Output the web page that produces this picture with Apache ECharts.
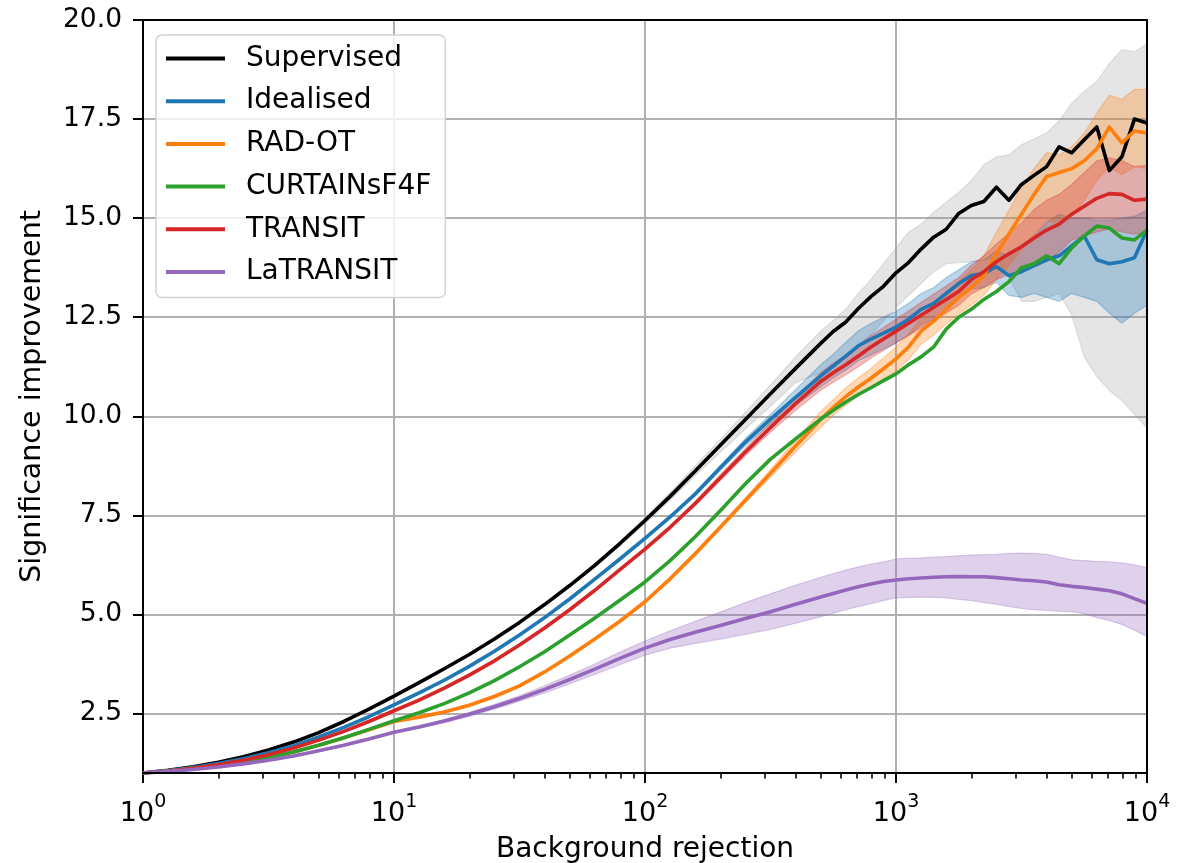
<!DOCTYPE html>
<html><head><meta charset="utf-8">
<script src="https://cdn.jsdelivr.net/npm/echarts@6.0.0/dist/echarts.min.js"></script>
<style>html,body{margin:0;padding:0;background:#fff}#c{width:1195px;height:863px}</style>
</head><body><div id="c"></div><script>
// Background rejection sample points (x axis, log scale)
const rejection = [1, 1.259, 1.585, 1.995, 2.512, 3.162, 3.981, 5.012, 6.31, 7.943,
  10, 12.59, 15.85, 19.95, 25.12, 31.62, 39.81, 50.12, 63.1, 79.43,
  100, 125.9, 158.5, 199.5, 251.2, 316.2, 398.1, 501.2, 562.3, 631, 707.9, 794.3, 891.3,
  1000, 1122, 1259, 1413, 1585, 1778, 1995, 2239, 2512, 2818, 3162, 3548, 3981, 4467, 5012, 5623, 6310, 7079, 7943, 8913, 10000];

const supervised = [1.00, 1.07, 1.16, 1.27, 1.41, 1.58, 1.78, 2.02, 2.30, 2.61,
  2.94, 3.28, 3.63, 3.99, 4.38, 4.80, 5.25, 5.73, 6.24, 6.79,
  7.37, 7.98, 8.62, 9.27, 9.92, 10.57, 11.21, 11.84, 12.14, 12.38, 12.72, 13.02, 13.28,
  13.62, 13.88, 14.22, 14.52, 14.72, 15.12, 15.32, 15.42, 15.78, 15.45, 15.85, 16.08, 16.3, 16.8, 16.65, 16.98, 17.3, 16.2, 16.55, 17.5, 17.4];
const supervisedHigh = [1.0, 1.09, 1.18, 1.29, 1.43, 1.60, 1.80, 2.04, 2.32, 2.63,
  2.96, 3.30, 3.65, 4.01, 4.40, 4.82, 5.28, 5.77, 6.29, 6.85,
  7.45, 8.08, 8.74, 9.42, 10.1, 10.79, 11.5, 12.15, 12.42, 12.7, 13.1, 13.45, 13.85,
  14.25, 14.65, 14.85, 15.15, 15.4, 15.65, 15.95, 16.35, 16.55, 16.6, 16.85, 17.0, 17.15, 17.45, 17.9, 18.2, 18.45, 18.9, 19.25, 19.2, 19.4];
const supervisedLow = [1.0, 1.05, 1.14, 1.25, 1.39, 1.56, 1.76, 2.00, 2.28, 2.59,
  2.92, 3.26, 3.61, 3.97, 4.36, 4.78, 5.22, 5.69, 6.19, 6.73,
  7.29, 7.88, 8.5, 9.09, 9.68, 10.25, 10.85, 11.1, 11.3, 11.5, 11.8, 12.05, 12.4,
  12.75, 13.05, 13.35, 13.65, 13.85, 13.88, 13.9, 13.95, 14.0, 13.5, 12.9, 12.9, 13.0, 13.1, 12.55, 11.5, 11.0, 10.65, 10.4, 10.05, 9.7];

const idealised = [1.0, 1.06, 1.14, 1.24, 1.36, 1.51, 1.69, 1.91, 2.15, 2.42,
  2.72, 3.02, 3.34, 3.69, 4.07, 4.48, 4.92, 5.39, 5.89, 6.40,
  6.92, 7.46, 8.04, 8.7, 9.35, 9.93, 10.48, 11.02, 11.27, 11.52, 11.78, 11.95, 12.1,
  12.25, 12.45, 12.7, 12.85, 13.1, 13.35, 13.55, 13.6, 13.78, 13.55, 13.65, 13.8, 13.95, 14.05, 14.3, 14.55, 13.95, 13.85, 13.9, 14.0, 14.7];
const idealisedHigh = [1.0, 1.08, 1.16, 1.26, 1.38, 1.53, 1.71, 1.93, 2.17, 2.44,
  2.75, 3.05, 3.37, 3.72, 4.10, 4.51, 4.95, 5.42, 5.92, 6.43,
  6.95, 7.5, 8.09, 8.76, 9.44, 10.05, 10.68, 11.3, 11.57, 11.87, 12.16, 12.35, 12.5,
  12.65, 12.85, 13.1, 13.25, 13.5, 13.7, 13.9, 13.95, 14.18, 14.05, 14.3, 14.55, 14.9, 15.1, 15.0, 15.0, 14.95, 14.95, 15.0, 15.05, 15.2];
const idealisedLow = [1.0, 1.04, 1.12, 1.22, 1.34, 1.49, 1.67, 1.89, 2.13, 2.40,
  2.69, 2.99, 3.31, 3.66, 4.04, 4.45, 4.89, 5.36, 5.86, 6.37,
  6.89, 7.42, 7.99, 8.64, 9.26, 9.81, 10.28, 10.74, 10.97, 11.17, 11.4, 11.55, 11.7,
  11.85, 12.05, 12.3, 12.45, 12.7, 13.0, 13.2, 13.25, 13.38, 13.05, 13.0, 13.1, 13.0, 12.9, 13.1, 13.0, 12.9, 12.6, 12.35, 12.6, 12.8];

const radot = [1.0, 1.05, 1.11, 1.19, 1.28, 1.39, 1.53, 1.70, 1.89, 2.09,
  2.30, 2.41, 2.54, 2.71, 2.93, 3.20, 3.55, 3.95, 4.38, 4.83,
  5.32, 5.9, 6.53, 7.2, 7.88, 8.56, 9.25, 9.92, 10.22, 10.5, 10.74, 10.96, 11.2,
  11.45, 11.75, 12.15, 12.4, 12.7, 13.0, 13.25, 13.55, 14.1, 14.6, 15.1, 15.6, 16.05, 16.15, 16.25, 16.45, 16.75, 17.3, 16.9, 17.2, 17.15];
const radotHigh = [1.0, 1.08, 1.14, 1.22, 1.31, 1.42, 1.56, 1.73, 1.92, 2.12,
  2.33, 2.44, 2.57, 2.74, 2.96, 3.23, 3.58, 3.98, 4.41, 4.86,
  5.36, 5.94, 6.58, 7.25, 7.94, 8.66, 9.4, 10.12, 10.42, 10.72, 10.97, 11.21, 11.48,
  11.75, 12.07, 12.48, 12.75, 13.08, 13.42, 13.7, 14.05, 14.65, 15.2, 15.8, 16.25, 16.65, 16.6, 16.8, 17.15, 17.65, 18.1, 18.0, 18.25, 18.25];
const radotLow = [1.0, 1.02, 1.08, 1.16, 1.25, 1.36, 1.50, 1.67, 1.86, 2.06,
  2.27, 2.38, 2.51, 2.68, 2.90, 3.17, 3.52, 3.92, 4.35, 4.80,
  5.28, 5.86, 6.48, 7.15, 7.82, 8.46, 9.1, 9.72, 10.02, 10.28, 10.51, 10.71, 10.92,
  11.15, 11.43, 11.82, 12.05, 12.32, 12.58, 12.8, 13.05, 13.45, 13.8, 14.2, 14.6, 14.95, 14.85, 15.05, 15.45, 15.95, 16.3, 16.1, 16.3, 16.25];

const curtains = [1.0, 1.05, 1.11, 1.19, 1.28, 1.39, 1.53, 1.70, 1.89, 2.10,
  2.32, 2.52, 2.75, 3.02, 3.33, 3.68, 4.06, 4.48, 4.91, 5.36,
  5.82, 6.36, 6.96, 7.62, 8.3, 8.92, 9.43, 9.93, 10.15, 10.36, 10.55, 10.72, 10.9,
  11.07, 11.3, 11.5, 11.75, 12.2, 12.5, 12.7, 12.95, 13.15, 13.4, 13.75, 13.85, 14.05, 13.85, 14.25, 14.55, 14.8, 14.75, 14.5, 14.45, 14.7];

const transit = [1.0, 1.05, 1.12, 1.21, 1.32, 1.46, 1.63, 1.83, 2.05, 2.30,
  2.57, 2.84, 3.14, 3.47, 3.83, 4.23, 4.66, 5.12, 5.61, 6.13,
  6.65, 7.2, 7.8, 8.45, 9.1, 9.72, 10.32, 10.88, 11.1, 11.3, 11.52, 11.75, 11.95,
  12.15, 12.35, 12.55, 12.75, 12.95, 13.15, 13.45, 13.65, 13.9, 14.1, 14.28, 14.5, 14.7, 14.85, 15.1, 15.3, 15.5, 15.62, 15.6, 15.45, 15.48];
const transitHigh = [1.0, 1.08, 1.15, 1.24, 1.35, 1.49, 1.66, 1.86, 2.08, 2.33,
  2.6, 2.87, 3.17, 3.5, 3.86, 4.26, 4.69, 5.15, 5.64, 6.16,
  6.68, 7.24, 7.85, 8.52, 9.19, 9.84, 10.49, 11.1, 11.34, 11.55, 11.79, 12.03, 12.24,
  12.45, 12.66, 12.87, 13.08, 13.29, 13.5, 13.81, 14.05, 14.35, 14.62, 14.88, 15.22, 15.45, 15.6, 15.85, 16.15, 16.45, 16.52, 16.45, 16.3, 16.33];
const transitLow = [1.0, 1.02, 1.09, 1.18, 1.29, 1.43, 1.60, 1.80, 2.02, 2.27,
  2.54, 2.81, 3.11, 3.44, 3.80, 4.20, 4.63, 5.09, 5.58, 6.10,
  6.62, 7.16, 7.75, 8.38, 9.01, 9.6, 10.15, 10.66, 10.86, 11.05, 11.25, 11.47, 11.66,
  11.85, 12.04, 12.23, 12.42, 12.61, 12.8, 13.09, 13.25, 13.45, 13.58, 13.68, 13.78, 13.9, 14.15, 14.45, 14.55, 14.65, 14.72, 14.65, 14.6, 14.63];

const latransit = [1.0, 1.04, 1.09, 1.15, 1.23, 1.32, 1.43, 1.56, 1.70, 1.86,
  2.03, 2.16, 2.31, 2.48, 2.67, 2.88, 3.11, 3.36, 3.62, 3.89,
  4.15, 4.37, 4.55, 4.72, 4.9, 5.07, 5.26, 5.44, 5.53, 5.62, 5.7, 5.77, 5.83,
  5.87, 5.9, 5.92, 5.94, 5.95, 5.96, 5.95, 5.95, 5.93, 5.9, 5.87, 5.85, 5.82, 5.75, 5.71, 5.68, 5.64, 5.6, 5.52, 5.4, 5.28];
const latransitHigh = [1.0, 1.05, 1.10, 1.16, 1.24, 1.33, 1.44, 1.58, 1.72, 1.88,
  2.05, 2.19, 2.35, 2.53, 2.73, 2.95, 3.2, 3.47, 3.75, 4.05,
  4.33, 4.59, 4.83, 5.06, 5.3, 5.52, 5.74, 5.94, 6.03, 6.12, 6.2, 6.27, 6.33,
  6.4, 6.42, 6.43, 6.45, 6.46, 6.48, 6.5, 6.51, 6.52, 6.54, 6.55, 6.54, 6.52, 6.45, 6.38, 6.36, 6.34, 6.33, 6.3, 6.25, 6.18];
const latransitLow = [1.0, 1.03, 1.08, 1.14, 1.22, 1.31, 1.42, 1.54, 1.68, 1.84,
  2.01, 2.13, 2.27, 2.43, 2.61, 2.81, 3.02, 3.25, 3.49, 3.73,
  3.97, 4.15, 4.27, 4.38, 4.5, 4.62, 4.78, 4.94, 5.03, 5.12, 5.2, 5.27, 5.35,
  5.42, 5.43, 5.44, 5.43, 5.42, 5.38, 5.35, 5.3, 5.26, 5.2, 5.15, 5.12, 5.1, 5.08, 5.07, 5.02, 4.92, 4.85, 4.75, 4.6, 4.44];

const yTicks = [2.5, 5, 7.5, 10, 12.5, 15, 17.5, 20];
const xMinorTicks = [2, 3, 4, 5, 6, 7, 8, 9, 20, 30, 40, 50, 60, 70, 80, 90,
  200, 300, 400, 500, 600, 700, 800, 900, 2000, 3000, 4000, 5000, 6000, 7000, 8000, 9000];

const FONT = 'DejaVu Sans';
const models = [
  {name: 'Supervised', y: supervised, lo: supervisedLow, hi: supervisedHigh, color: '#000000', band: 'rgba(150,150,150,0.25)'},
  {name: 'Idealised', y: idealised, lo: idealisedLow, hi: idealisedHigh, color: '#1f77b4', band: 'rgba(31,119,180,0.3)'},
  {name: 'RAD-OT', y: radot, lo: radotLow, hi: radotHigh, color: '#ff7f0e', band: 'rgba(255,127,14,0.3)'},
  {name: 'CURTAINsF4F', y: curtains, color: '#2ca02c'},
  {name: 'TRANSIT', y: transit, lo: transitLow, hi: transitHigh, color: '#d62728', band: 'rgba(214,39,40,0.3)'},
  {name: 'LaTRANSIT', y: latransit, lo: latransitLow, hi: latransitHigh, color: '#9467bd', band: 'rgba(148,103,189,0.3)'}
];

function bandSeries(m) {
  return {
    type: 'custom', name: m.name + ' band', silent: true, z: 1, clip: true,
    xAxisIndex: 0, yAxisIndex: 0,
    data: rejection.map((x, i) => [x, m.lo[i], m.hi[i]]),
    encode: {x: 0, y: [1, 2]},
    renderItem: function (params, api) {
      if (params.dataIndex !== 0) return null;
      const pts = [];
      for (let i = 0; i < rejection.length; i++) pts.push(api.coord([rejection[i], m.hi[i]]));
      for (let i = rejection.length - 1; i >= 0; i--) pts.push(api.coord([rejection[i], m.lo[i]]));
      return {type: 'polygon', shape: {points: pts}, style: {fill: m.band, stroke: m.band, lineWidth: 1.2}};
    }
  };
}
function lineSeries(m) {
  return {
    type: 'line', name: m.name, xAxisIndex: 0, yAxisIndex: 0,
    data: rejection.map((x, i) => [x, m.y[i]]),
    showSymbol: false, symbol: 'none', color: m.color, z: 3, clip: true,
    lineStyle: {color: m.color, width: 3.6, join: 'round'}, itemStyle: {color: m.color},
    emphasis: {disabled: true}
  };
}

const series = [];
models.forEach(m => { if (m.band) series.push(bandSeries(m)); });
models.forEach(m => series.push(lineSeries(m)));

const chart = echarts.init(document.getElementById('c'), null, {renderer: 'canvas'});
chart.setOption({
  animation: false,
  backgroundColor: '#ffffff',
  textStyle: {fontFamily: FONT},
  grid: {left: 143, top: 20, right: 48, bottom: 90, containLabel: false, outerBoundsMode: 'none'},
  legend: {
    data: models.map(m => m.name), orient: 'vertical', left: 156, top: 35,
    icon: 'rect', itemWidth: 59, itemHeight: 4, itemGap: 11.7,
    padding: [8, 14, 10, 10],
    backgroundColor: 'rgba(255,255,255,0.8)', borderColor: '#d3d3d3', borderWidth: 1.5, borderRadius: 6,
    textStyle: {fontSize: 28, fontFamily: FONT, color: '#000', lineHeight: 31, padding: [0, 0, 0, 16]},
    selectedMode: false
  },
  xAxis: [
    {
      type: 'log', logBase: 10, min: 1, max: 10000, position: 'bottom',
      name: 'Background rejection', nameLocation: 'middle', nameGap: 63,
      nameTextStyle: {fontSize: 28, fontFamily: FONT, color: '#000'},
      axisLine: {show: true, lineStyle: {color: '#000', width: 2}},
      axisTick: {show: true, length: 10, lineStyle: {color: '#000', width: 2}},
      axisLabel: {
        margin: 20, color: '#000',
        formatter: v => '{b|10}{s|' + Math.round(Math.log10(v)) + '}',
        rich: {
          b: {fontSize: 27, fontFamily: FONT, color: '#000', lineHeight: 34, verticalAlign: 'bottom'},
          s: {fontSize: 19, fontFamily: FONT, color: '#000', lineHeight: 20, verticalAlign: 'top'}
        }
      },
      splitLine: {show: true, lineStyle: {color: '#b0b0b0', width: 2}},
      minorTick: {show: false}
    },
    {
      type: 'log', logBase: 10, min: 1, max: 10000, position: 'bottom', z: 10,
      axisLine: {show: true, lineStyle: {color: '#000', width: 2}},
      axisTick: {show: true, length: 5.6, customValues: xMinorTicks, lineStyle: {color: '#000', width: 1.6}},
      axisLabel: {show: false},
      splitLine: {show: false}
    },
    {
      type: 'log', logBase: 10, min: 1, max: 10000, position: 'top', z: 10,
      axisLine: {show: true, lineStyle: {color: '#000', width: 2}},
      axisTick: {show: false}, axisLabel: {show: false}, splitLine: {show: false}
    }
  ],
  yAxis: [
    {
      type: 'value', min: 1, max: 20, position: 'left',
      name: 'Significance improvement', nameLocation: 'middle', nameGap: 96,
      nameTextStyle: {fontSize: 28.5, fontFamily: FONT, color: '#000'},
      axisLine: {show: true, lineStyle: {color: '#000', width: 2}},
      axisTick: {show: true, length: 10, customValues: yTicks, lineStyle: {color: '#000', width: 2}},
      axisLabel: {customValues: yTicks, formatter: v => v.toFixed(1), fontSize: 26.5, fontFamily: FONT, color: '#000', margin: 21},
      splitLine: {show: true, lineStyle: {color: '#b0b0b0', width: 2}}
    },
    {
      type: 'value', min: 1, max: 20, position: 'right', z: 10,
      axisLine: {show: true, lineStyle: {color: '#000', width: 2}},
      axisTick: {show: false}, axisLabel: {show: false}, splitLine: {show: false}
    }
  ],
  series: series
});
</script></body></html>
